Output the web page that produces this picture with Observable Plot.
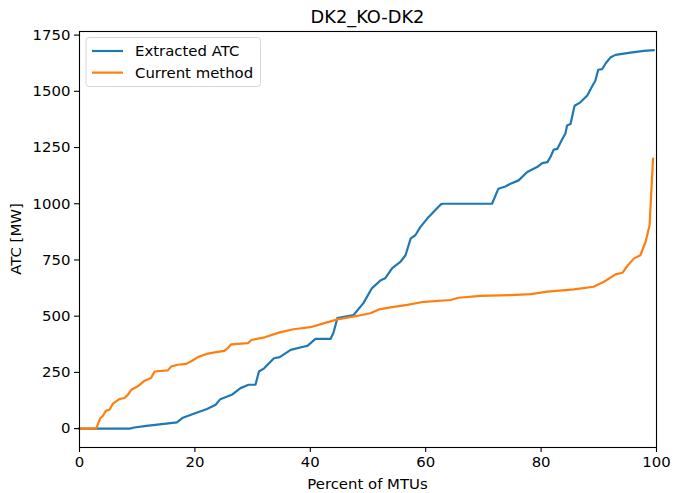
<!DOCTYPE html>
<html>
<head>
<meta charset="utf-8">
<script src="https://cdn.jsdelivr.net/npm/d3@7"></script>
<script src="https://cdn.jsdelivr.net/npm/@observablehq/plot@0.6"></script>
<style>
  html, body { margin: 0; padding: 0; background: #fff; }
  #chart { width: 673px; height: 493px; }
</style>
</head>
<body>
<div id="chart"></div>
<script>
const title = "DK2_KO-DK2";
const xLabel = "Percent of MTUs";
const yLabel = "ATC [MW]";
const seriesNames = ["Extracted ATC", "Current method"];
const seriesColors = ["#1f77b4", "#ff7f0e"];
const xTicks = [0, 20, 40, 60, 80, 100];
const yTicks = [0, 250, 500, 750, 1000, 1250, 1500, 1750];

const atcPct = [0, 8.7, 9.5, 11.6, 13.5, 16.9, 17.8, 19.8, 22.1, 23.6, 24.4, 26.5, 27.9, 29.3, 30.5, 31.1, 32.0, 33.7, 34.7, 36.6, 38.6, 39.5, 40.9, 43.5, 44.0, 44.7, 47.5, 49.2, 50.7, 52.2, 53.0, 54.2, 55.6, 56.5, 57.4, 58.2, 59.1, 60.3, 61.1, 62.6, 63.0, 71.5, 72.6, 73.8, 74.7, 76.1, 77.6, 79.3, 80.2, 81.1, 81.6, 82.2, 82.8, 83.7, 84.2, 84.5, 85.1, 85.8, 86.8, 88.0, 88.9, 89.4, 89.9, 90.6, 91.2, 92.0, 92.9, 95.5, 97.8, 99.5];
const atcVal = [0, 0, 5, 12, 18, 28, 47, 66, 87, 106, 131, 152, 180, 195, 195, 254, 268, 313, 318, 350, 363, 368, 399, 399, 425, 492, 505, 558, 625, 660, 669, 714, 741, 771, 846, 860, 897, 935, 957, 997, 1000, 1000, 1067, 1077, 1089, 1104, 1141, 1163, 1181, 1185, 1207, 1241, 1244, 1289, 1311, 1348, 1355, 1436, 1451, 1481, 1525, 1547, 1596, 1599, 1625, 1650, 1662, 1672, 1680, 1683];

const curPct = [0, 2.9, 3.6, 4.0, 4.6, 5.2, 5.8, 6.9, 7.8, 8.4, 9.0, 10.1, 11.3, 12.4, 13.0, 15.3, 15.9, 17.0, 18.5, 19.6, 20.5, 22.0, 23.7, 25.1, 25.7, 26.3, 29.2, 29.8, 32.1, 34.7, 37.1, 40.0, 42.3, 44.7, 48.1, 50.4, 51.9, 53.9, 56.8, 59.7, 64.3, 65.7, 69.5, 74.7, 78.2, 81.1, 85.7, 89.1, 90.9, 92.9, 94.1, 94.9, 96.1, 97.2, 98.1, 98.8, 99.4];
const curVal = [0, 0, 47, 55, 80, 84, 111, 131, 136, 151, 173, 188, 213, 225, 254, 259, 276, 284, 288, 303, 318, 332, 340, 346, 358, 375, 380, 394, 406, 428, 442, 451, 468, 486, 501, 513, 530, 539, 550, 564, 572, 582, 590, 594, 598, 609, 619, 631, 653, 686, 693, 722, 757, 771, 830, 904, 1200];

const atcData = atcPct.map((p, i) => ({p, v: atcVal[i]}));
const curData = curPct.map((p, i) => ({p, v: curVal[i]}));

const W = 673, H = 493;
const mL = 79, mR = 17, mT = 31, mB = 46;
const font = "DejaVu Sans, sans-serif";
const fs = 14.9;

const chart = Plot.plot({
  width: W,
  height: H,
  marginLeft: mL,
  marginRight: mR,
  marginTop: mT,
  marginBottom: mB,
  style: {fontFamily: font, fontSize: fs + "px", color: "black", background: "white", overflow: "visible"},
  x: {domain: [0, 100]},
  y: {domain: [-84, 1766]},
  marks: [
    Plot.line(atcData, {x: "p", y: "v", stroke: seriesColors[0], strokeWidth: 2.2, strokeLinejoin: "round", strokeLinecap: "square"}),
    Plot.line(curData, {x: "p", y: "v", stroke: seriesColors[1], strokeWidth: 2.2, strokeLinejoin: "round", strokeLinecap: "square"}),
    Plot.frame({stroke: "black", strokeWidth: 1.1}),
    Plot.axisX({ticks: xTicks, tickSize: 5, tickPadding: 4, label: null, fontSize: fs, tickFormat: d => String(d), strokeWidth: 1.1}),
    Plot.axisY({ticks: yTicks, tickSize: 5, tickPadding: 4, label: null, fontSize: fs, tickFormat: d => String(d), strokeWidth: 1.1})
  ]
});

document.getElementById("chart").appendChild(chart);

const svg = d3.select(chart);
const cx = mL + (W - mL - mR) / 2;

svg.append("text")
  .attr("x", cx).attr("y", 16)
  .attr("text-anchor", "middle").attr("dominant-baseline", "central")
  .attr("font-family", font).attr("font-size", "17.8px").attr("fill", "black")
  .text(title);

svg.append("text")
  .attr("x", cx).attr("y", 484)
  .attr("text-anchor", "middle").attr("dominant-baseline", "central")
  .attr("font-family", font).attr("font-size", fs + "px").attr("fill", "black")
  .text(xLabel);

svg.append("text")
  .attr("transform", `translate(16,${mT + (H - mT - mB) / 2}) rotate(-90)`)
  .attr("text-anchor", "middle").attr("dominant-baseline", "central")
  .attr("font-family", font).attr("font-size", fs + "px").attr("fill", "black")
  .text(yLabel);

// legend
const lg = svg.append("g");
lg.append("rect")
  .attr("x", 86).attr("y", 37.5).attr("width", 174.5).attr("height", 49)
  .attr("rx", 3).attr("ry", 3)
  .attr("fill", "white").attr("fill-opacity", 0.8)
  .attr("stroke", "#d6d6d6").attr("stroke-width", 1);
seriesNames.forEach((name, i) => {
  const y = 51 + i * 21.6;
  lg.append("line")
    .attr("x1", 92).attr("x2", 123).attr("y1", y).attr("y2", y)
    .attr("stroke", seriesColors[i]).attr("stroke-width", 2.2);
  lg.append("text")
    .attr("x", 135).attr("y", y)
    .attr("text-anchor", "start")
    .attr("dominant-baseline", "central")
    .attr("font-family", font).attr("font-size", fs + "px").attr("fill", "black")
    .text(name);
});
</script>
</body>
</html>
